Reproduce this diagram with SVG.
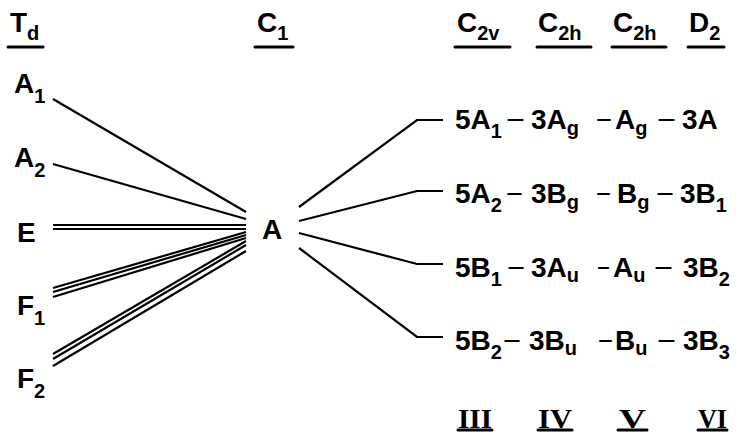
<svg xmlns="http://www.w3.org/2000/svg" width="740" height="436" viewBox="0 0 740 436">
<style>
  text { font-family: "Liberation Sans", Arial, sans-serif; font-size: 28px; font-weight: bold; fill: #000; }
  .sub { font-size: 20px; }
  .d { font-weight: normal; }
  .rn { font-family: "Liberation Serif", "Times New Roman", serif; font-size: 28px; font-weight: bold; }
  .ul { stroke: #000; stroke-width: 3; stroke-linecap: round; }
  .c { stroke: #000; stroke-width: 2.2; fill: none; }
</style>
<rect width="740" height="436" fill="#fff"/>

<g id="headers">
  <text x="10" y="32">T<tspan class="sub" dy="8">d</tspan></text>
  <line class="ul" x1="8" y1="47" x2="43" y2="47"/>
  <text x="257" y="32">C<tspan class="sub" dy="8">1</tspan></text>
  <line class="ul" x1="255" y1="47" x2="293" y2="47"/>
  <text x="457" y="32">C<tspan class="sub" dy="8">2v</tspan></text>
  <line class="ul" x1="455" y1="47" x2="510" y2="47"/>
  <text x="538" y="32">C<tspan class="sub" dy="8">2h</tspan></text>
  <line class="ul" x1="537" y1="47" x2="591" y2="47"/>
  <text x="613" y="32">C<tspan class="sub" dy="8">2h</tspan></text>
  <line class="ul" x1="612" y1="47" x2="666" y2="47"/>
  <text x="689" y="32">D<tspan class="sub" dy="8">2</tspan></text>
  <line class="ul" x1="688" y1="47" x2="724" y2="47"/>
</g>

<g id="Td-A1"><text x="14" y="93">A<tspan class="sub" dy="10">1</tspan></text></g>
<g id="Td-A2"><text x="14" y="167">A<tspan class="sub" dy="10">2</tspan></text></g>
<g id="Td-E"><text x="17" y="242">E</text></g>
<g id="Td-F1"><text x="17" y="315">F<tspan class="sub" dy="10">1</tspan></text></g>
<g id="Td-F2"><text x="17" y="388">F<tspan class="sub" dy="10">2</tspan></text></g>

<g id="C1-A"><text x="262" y="239">A</text></g>

<g id="row1">
  <text x="455" y="129">5A<tspan class="sub" dy="9">1</tspan></text>
  <text class="d" x="506" y="129" textLength="19" lengthAdjust="spacingAndGlyphs">−</text>
  <text x="531" y="129">3A<tspan class="sub" dy="6">g</tspan></text>
  <text class="d" x="596" y="129" textLength="16" lengthAdjust="spacingAndGlyphs">−</text>
  <text x="615" y="129">A<tspan class="sub" dy="6">g</tspan></text>
  <text class="d" x="657" y="129" textLength="19" lengthAdjust="spacingAndGlyphs">−</text>
  <text x="682" y="129">3A</text>
</g>
<g id="row2">
  <text x="455" y="203">5A<tspan class="sub" dy="9">2</tspan></text>
  <text class="d" x="506" y="203" textLength="17" lengthAdjust="spacingAndGlyphs">−</text>
  <text x="531" y="203">3B<tspan class="sub" dy="6">g</tspan></text>
  <text class="d" x="596" y="203" textLength="15" lengthAdjust="spacingAndGlyphs">−</text>
  <text x="617" y="203">B<tspan class="sub" dy="6">g</tspan></text>
  <text class="d" x="656" y="203" textLength="18" lengthAdjust="spacingAndGlyphs">−</text>
  <text x="680" y="203">3B<tspan class="sub" dy="9">1</tspan></text>
</g>
<g id="row3">
  <text x="455" y="277">5B<tspan class="sub" dy="9">1</tspan></text>
  <text class="d" x="507" y="277" textLength="18" lengthAdjust="spacingAndGlyphs">−</text>
  <text x="531" y="277">3A<tspan class="sub" dy="5">u</tspan></text>
  <text class="d" x="597" y="277" textLength="13" lengthAdjust="spacingAndGlyphs">−</text>
  <text x="613" y="277">A<tspan class="sub" dy="5">u</tspan></text>
  <text class="d" x="654" y="277" textLength="19" lengthAdjust="spacingAndGlyphs">−</text>
  <text x="683" y="277">3B<tspan class="sub" dy="9">2</tspan></text>
</g>
<g id="row4">
  <text x="455" y="350">5B<tspan class="sub" dy="9">2</tspan></text>
  <text class="d" x="503" y="350" textLength="18" lengthAdjust="spacingAndGlyphs">−</text>
  <text x="529" y="350">3B<tspan class="sub" dy="5">u</tspan></text>
  <text class="d" x="598" y="350" textLength="15" lengthAdjust="spacingAndGlyphs">−</text>
  <text x="615" y="350">B<tspan class="sub" dy="5">u</tspan></text>
  <text class="d" x="657" y="350" textLength="19" lengthAdjust="spacingAndGlyphs">−</text>
  <text x="683" y="350">3B<tspan class="sub" dy="9">3</tspan></text>
</g>

<g id="numerals">
  <text class="rn" x="458" y="428" textLength="34" lengthAdjust="spacingAndGlyphs">III</text>
  <line class="ul" x1="458" y1="430" x2="492" y2="430"/>
  <text class="rn" x="538" y="428" textLength="34" lengthAdjust="spacingAndGlyphs">IV</text>
  <line class="ul" x1="538" y1="430" x2="572" y2="430"/>
  <text class="rn" x="619" y="428" textLength="27" lengthAdjust="spacingAndGlyphs">V</text>
  <line class="ul" x1="618" y1="430" x2="647" y2="430"/>
  <text class="rn" x="698" y="428" textLength="29" lengthAdjust="spacingAndGlyphs">VI</text>
  <line class="ul" x1="698" y1="430" x2="727" y2="430"/>
</g>

<g id="connectors">
  <line class="c" x1="53" y1="99" x2="246" y2="212"/>
  <line class="c" x1="53" y1="164" x2="246" y2="219"/>
  <line class="c" x1="53" y1="225" x2="246" y2="225"/>
  <line class="c" x1="53" y1="229" x2="246" y2="229"/>
  <line class="c" x1="53" y1="288" x2="246" y2="232"/>
  <line class="c" x1="53" y1="292" x2="246" y2="235"/>
  <line class="c" x1="53" y1="297" x2="246" y2="238"/>
  <line class="c" x1="53" y1="354" x2="246" y2="241"/>
  <line class="c" x1="53" y1="359" x2="246" y2="245"/>
  <line class="c" x1="53" y1="366" x2="246" y2="251"/>
  <polyline class="c" points="299,207 417,120 443,120"/>
  <polyline class="c" points="299,221 417,191 443,191"/>
  <polyline class="c" points="299,233 417,264 443,264"/>
  <polyline class="c" points="299,248 417,337 443,337"/>
</g>
</svg>
